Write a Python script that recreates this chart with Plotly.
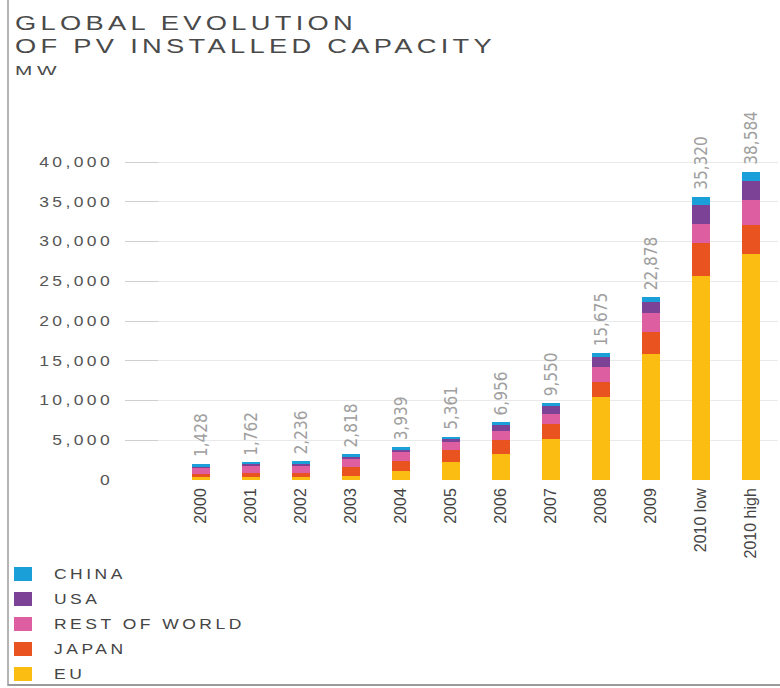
import plotly.graph_objects as go

# ---- data (MW) ----
categories = ["2000", "2001", "2002", "2003", "2004", "2005", "2006", "2007",
              "2008", "2009", "2010 low", "2010 high"]
eu    = [330, 330, 420, 500, 1170, 2300, 3230, 5160, 10400, 15850, 25660, 28390]
japan = [380, 500, 500, 1170, 1260, 1470, 1800, 1890, 1970, 2730, 4190, 3690]
row   = [840, 920, 840, 920, 1130, 965, 1170, 1215, 1800, 2390, 2300, 3145]
usa   = [210, 290, 335, 420, 335, 500, 755, 1050, 1260, 1385, 2390, 2430]
china = [250, 125, 250, 210, 210, 210, 290, 335, 500, 630, 1090, 1130]
total_labels = ["1,428", "1,762", "2,236", "2,818", "3,939", "5,361", "6,956",
                "9,550", "15,675", "22,878", "35,320", "38,584"]

series_names = ["EU", "JAPAN", "REST OF WORLD", "USA", "CHINA"]
series_values = [eu, japan, row, usa, china]
series_colors = ["#fcbd12", "#e8531f", "#dd5fa1", "#7b4296", "#1a9fd8"]

title_text = "GLOBAL EVOLUTION<br>OF PV INSTALLED CAPACITY"
unit_label = "MW"
y_ticks = [0, 5000, 10000, 15000, 20000, 25000, 30000, 35000, 40000]

# ---- layout geometry (pixels) ----
W_PX, H_PX = 780, 688
L, R, T, B = 125, 778, 150, 480


def fx(px):
    return (px - L) / (R - L)


def fy(py):
    return (B - py) / (B - T)


fig = go.Figure()
for name, vals, col in zip(series_names, series_values, series_colors):
    fig.add_trace(go.Bar(x=categories, y=vals, name=name, marker_color=col,
                         marker_line_width=0, showlegend=False))

totals = [sum(v) for v in zip(*series_values)]

annotations = []
# value labels above bars (x given as category index)
for i, (tot, lab) in enumerate(zip(totals, total_labels)):
    annotations.append(dict(
        x=i, y=tot, xref="x", yref="y", text=lab, showarrow=False,
        textangle=-90, yanchor="bottom", xanchor="center", yshift=5,
        font=dict(family="Liberation Sans Narrow, DejaVu Sans Condensed, Liberation Sans",
                  size=17, color="#a0a0a0")))

# title + unit
annotations.append(dict(x=fx(13), y=fy(9), xref="paper", yref="paper", text=title_text,
                        showarrow=False, xanchor="left", yanchor="top", align="left",
                        font=dict(family="Liberation Sans, Arial", size=21, color="#4a4a4a")))
annotations.append(dict(x=fx(13), y=fy(70), xref="paper", yref="paper", text=unit_label,
                        showarrow=False, xanchor="left", yanchor="middle", align="left",
                        font=dict(family="Liberation Sans, Arial", size=13, color="#4a4a4a")))

shapes = []
# manual legend (top item = top of stack)
legend_rows = [574, 599, 624, 649, 674]
for i, (name, col) in enumerate(zip(series_names[::-1], series_colors[::-1])):
    yc = legend_rows[i]
    shapes.append(dict(type="rect", xref="paper", yref="paper",
                       x0=fx(14), x1=fx(32), y0=fy(yc + 7), y1=fy(yc - 7),
                       fillcolor=col, line_width=0))
    annotations.append(dict(x=fx(52), y=fy(yc), xref="paper", yref="paper", text=name,
                            showarrow=False, xanchor="left", yanchor="middle", align="left",
                            font=dict(family="Liberation Sans, Arial", size=14, color="#454545")))

# frame lines of the original picture
shapes.append(dict(type="line", xref="paper", yref="paper", x0=fx(8), x1=fx(8),
                   y0=fy(0), y1=fy(686), line=dict(color="#b4b4b4", width=2)))
shapes.append(dict(type="line", xref="paper", yref="paper", x0=fx(8), x1=fx(780),
                   y0=fy(685), y1=fy(685), line=dict(color="#9a9a9a", width=2)))

fig.update_layout(
    width=W_PX, height=H_PX,
    margin=dict(l=L, r=W_PX - R, t=T, b=H_PX - B, pad=0),
    barmode="stack", bargap=0.63,
    paper_bgcolor="white", plot_bgcolor="white",
    annotations=annotations, shapes=shapes,
    showlegend=False,
)
fig.update_xaxes(type="category", range=[-1.52, 11.54], tickangle=-90,
                 showline=False, showgrid=False, ticks="", zeroline=False,
                 tickfont=dict(family="Liberation Sans, Arial", size=16, color="#444444"),
                 ticklabelstandoff=4)
fig.update_yaxes(range=[0, 41510], tickvals=y_ticks, tickformat=",d",
                 showgrid=True, gridcolor="#e9e9e9", gridwidth=1, zeroline=False,
                 showline=False, ticks="inside", ticklen=33, tickcolor="#cfcfcf", tickwidth=1,
                 tickfont=dict(family="Liberation Sans, Arial", size=14, color="#555555"),
                 ticklabelstandoff=11)

# the original uses a wide (extended) grotesque: widen the text glyphs
post = """
var gd = document.getElementById('{plot_id}');
function widen(t, sx, ls, origin){
  t.style.letterSpacing = ls + 'px';
  t.style.transformBox = 'fill-box';
  t.style.transformOrigin = origin;
  t.style.transform = 'scaleX(' + sx + ')';
}
gd.querySelectorAll('.annotation-text').forEach(function(t){
  var s = t.textContent;
  if (/\\d/.test(s)) return;
  var fs = parseFloat(t.style.fontSize);
  if (s === 'MW') { widen(t, 1.6, 3, 'left center'); return; }
  if (fs >= 20) {
    widen(t, 1.3, 3.3, 'left center');
    var lines = t.querySelectorAll('tspan.line');
    for (var i = 1; i < lines.length; i++) { lines[i].setAttribute('dy', '1.1em'); }
    return;
  }
  widen(t, 1.25, 2.8, 'left center');
});
gd.querySelectorAll('.ytick text').forEach(function(t){
  t.style.letterSpacing = '2.7px';
  var X = parseFloat(t.getAttribute('x')) || 0;
  var tr = t.getAttribute('transform') || '';
  t.setAttribute('transform', tr + ' translate(' + X + ',0) scale(1.25,1) translate(' + (-X) + ',0)');
});
"""

fig.write_html("out.html", post_script=post)
